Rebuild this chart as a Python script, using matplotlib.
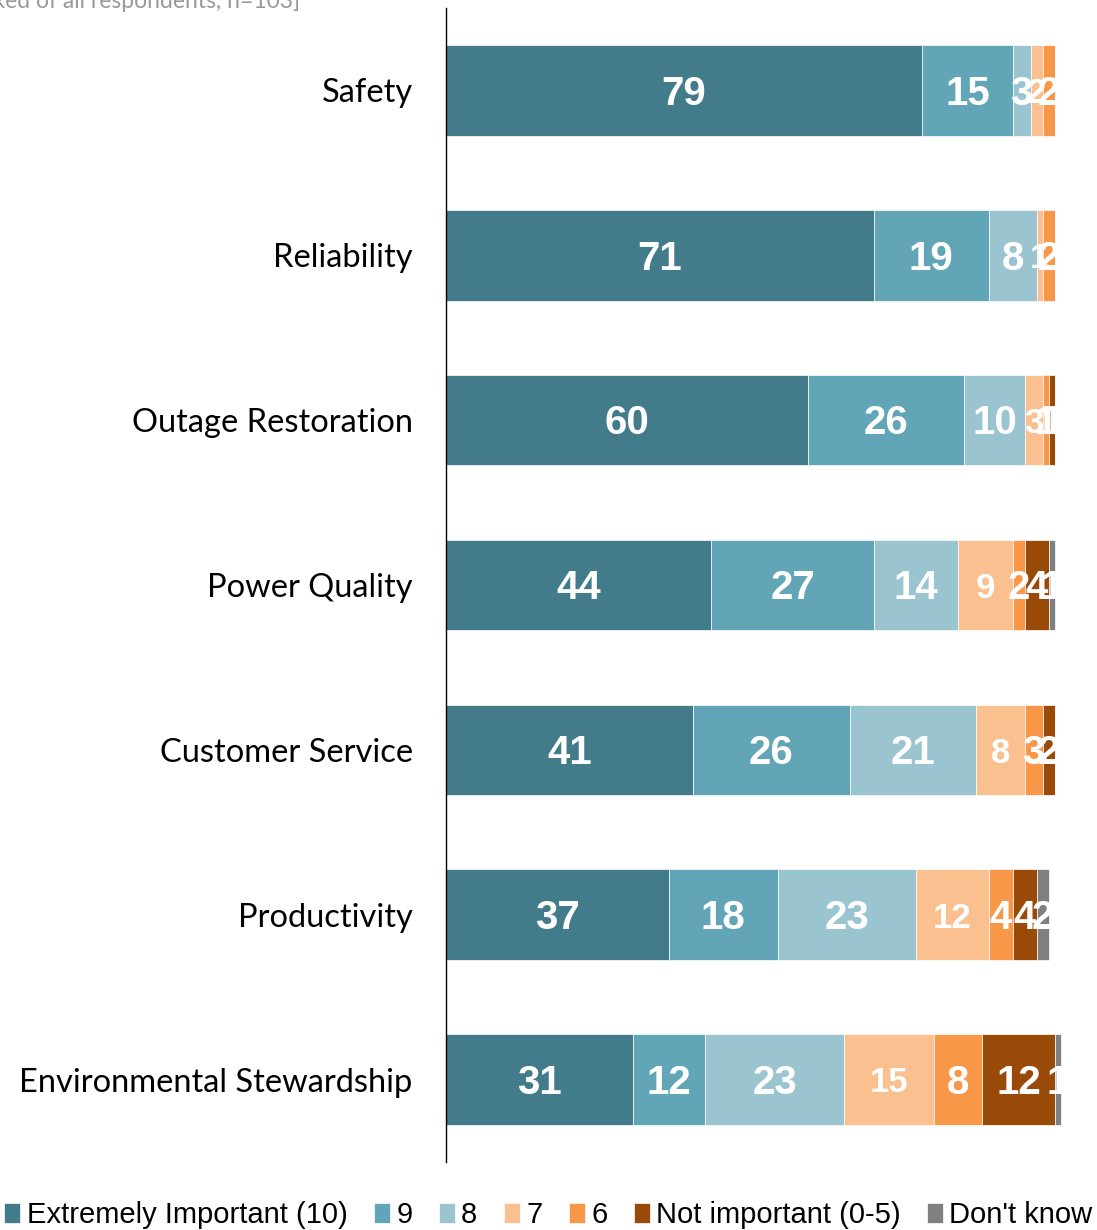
import matplotlib
matplotlib.use("Agg")
import matplotlib.pyplot as plt
import numpy as np

categories = ["Safety", "Reliability", "Outage Restoration", "Power Quality",
              "Customer Service", "Productivity", "Environmental Stewardship"]
series_names = ["Extremely Important (10)", "9", "8", "7", "6",
                "Not important (0-5)", "Don't know"]
extremely = [79, 71, 60, 44, 41, 37, 31]
nine = [15, 19, 26, 27, 26, 18, 12]
eight = [3, 8, 10, 14, 21, 23, 23]
seven = [2, 1, 3, 9, 8, 12, 15]
six = [2, 2, 1, 2, 3, 4, 8]
not_important = [0, 0, 1, 4, 2, 4, 12]
dont_know = [0, 0, 0, 1, 0, 2, 1]
colors = ["#427C8B", "#62A5B6", "#99C4D0", "#FAC090", "#F79747", "#9A4A08", "#808080"]
subtitle = "[Asked of all respondents, n=103]"

series = [extremely, nine, eight, seven, six, not_important, dont_know]

fig = plt.figure(figsize=(10.97, 12.30), dpi=100)
ax = fig.add_axes([446/1097, (1230-1162)/1230, 1 - 446/1097, (1162-8)/1230])

y = np.arange(len(categories))
left = np.zeros(len(categories))
for i, (vals, name, col) in enumerate(zip(series, series_names, colors)):
    vals = np.array(vals, dtype=float)
    ax.barh(y, vals, left=left, height=0.55, color=col,
            edgecolor="white", linewidth=0.5, label=name)
    for j, v in enumerate(vals):
        if v > 0:
            fs = 25 if i == 3 else 29
            ax.text(left[j] + v/2, y[j] + 0.02, f"{int(v)}", ha="center", va="center",
                    color="white", fontsize=fs, fontweight="bold",
                    family="Liberation Sans")
    left += vals

ax.set_xlim(0, 108)
ax.set_ylim(6.5, -0.5)
ax.set_yticks(y)
ax.set_yticklabels(categories, fontsize=23.5, family="Lato")
ax.tick_params(axis="y", length=0, pad=24)
ax.set_xticks([])
for s in ["top", "right", "bottom"]:
    ax.spines[s].set_visible(False)
ax.spines["left"].set_linewidth(1.0)
ax.spines["left"].set_color("#000000")

fig.text(300/1097, 1 - 1/1230, subtitle, ha="right", va="center",
         fontsize=16.5, color="#999999", family="Lato")

handles, labels = ax.get_legend_handles_labels()
fig.legend(handles, labels, loc="center", bbox_to_anchor=(0.5, 1 - 1215/1230),
           ncol=7, frameon=False, handlelength=0.55, handleheight=0.7,
           handletextpad=0.22, columnspacing=0.9,
           prop={"family": "Liberation Sans", "size": 21})

fig.savefig("out.png", dpi=100)
